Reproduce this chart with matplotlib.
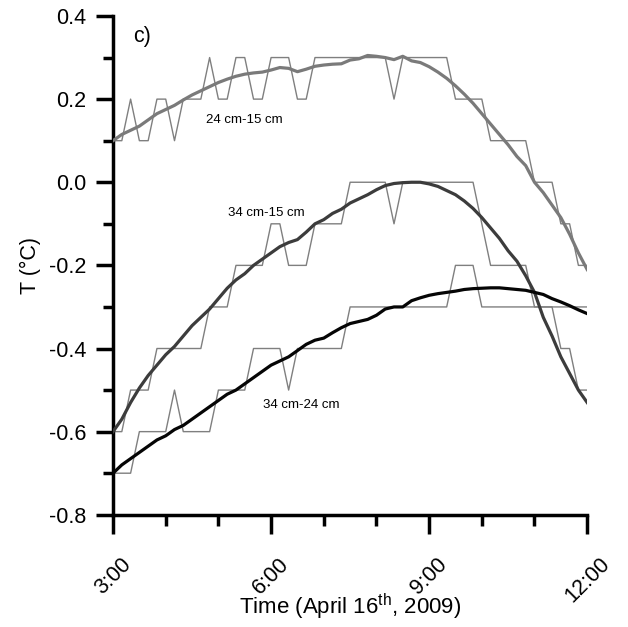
import numpy as np
import matplotlib
matplotlib.use('Agg')
import matplotlib.pyplot as plt
from matplotlib.ticker import MultipleLocator, FixedLocator

plt.rcParams['font.family'] = ['Liberation Sans', 'DejaVu Sans']
plt.rcParams['mathtext.fontset'] = 'custom'
plt.rcParams['mathtext.rm'] = 'Liberation Sans'

# 10 minute samples, 3:00 -> 12:00
minutes = np.arange(55) * 10
hours = 3 + minutes / 60.0

# measured differences (0.1 degC resolution)
raw_24_15 = [0.1, 0.1, 0.2, 0.1, 0.1, 0.2, 0.2, 0.1, 0.2, 0.2,
             0.2, 0.3, 0.2, 0.2, 0.3, 0.3, 0.2, 0.2, 0.3, 0.3,
             0.3, 0.2, 0.2, 0.3, 0.3, 0.3, 0.3, 0.3, 0.3, 0.3,
             0.3, 0.3, 0.2, 0.3, 0.3, 0.3, 0.3, 0.3, 0.3, 0.2,
             0.2, 0.2, 0.2, 0.1, 0.1, 0.1, 0.1, 0.1, 0.0, 0.0,
             0.0, -0.1, -0.1, -0.2, -0.2]
raw_34_15 = [-0.6, -0.6, -0.5, -0.5, -0.5, -0.4, -0.4, -0.4, -0.4, -0.4,
             -0.4, -0.3, -0.3, -0.3, -0.2, -0.2, -0.2, -0.2, -0.1, -0.1,
             -0.2, -0.2, -0.2, -0.1, -0.1, -0.1, -0.1, 0.0, 0.0, 0.0,
             0.0, 0.0, -0.1, 0.0, 0.0, 0.0, 0.0, 0.0, 0.0, 0.0,
             0.0, 0.0, -0.1, -0.2, -0.2, -0.2, -0.2, -0.2, -0.3, -0.3,
             -0.3, -0.4, -0.4, -0.5, -0.5]
raw_34_24 = [-0.7, -0.7, -0.7, -0.6, -0.6, -0.6, -0.6, -0.5, -0.6, -0.6,
             -0.6, -0.6, -0.5, -0.5, -0.5, -0.5, -0.4, -0.4, -0.4, -0.4,
             -0.5, -0.4, -0.4, -0.4, -0.4, -0.4, -0.4, -0.3, -0.3, -0.3,
             -0.3, -0.3, -0.3, -0.3, -0.3, -0.3, -0.3, -0.3, -0.3, -0.2,
             -0.2, -0.2, -0.3, -0.3, -0.3, -0.3, -0.3, -0.3, -0.3, -0.3,
             -0.3, -0.3, -0.3, -0.3, -0.3]

# smoothed curves
smooth_24_15 = [0.100, 0.115, 0.125, 0.135, 0.150, 0.165, 0.175, 0.185, 0.198, 0.210,
                0.220, 0.230, 0.240, 0.248, 0.255, 0.260, 0.263, 0.265, 0.270, 0.276,
                0.274, 0.266, 0.272, 0.279, 0.282, 0.284, 0.285, 0.294, 0.297, 0.305,
                0.303, 0.300, 0.295, 0.303, 0.292, 0.288, 0.278, 0.265, 0.250, 0.232,
                0.212, 0.190, 0.165, 0.140, 0.115, 0.090, 0.062, 0.040, 0.000, -0.025,
                -0.055, -0.085, -0.125, -0.170, -0.210]
smooth_34_15 = [-0.600, -0.570, -0.530, -0.495, -0.465, -0.440, -0.415, -0.395, -0.370, -0.345,
                -0.325, -0.305, -0.280, -0.255, -0.235, -0.220, -0.200, -0.185, -0.170, -0.155,
                -0.145, -0.138, -0.120, -0.100, -0.090, -0.075, -0.065, -0.050, -0.040, -0.030,
                -0.018, -0.008, -0.003, -0.001, 0.000, 0.000, -0.004, -0.010, -0.020, -0.030,
                -0.045, -0.063, -0.085, -0.110, -0.135, -0.165, -0.190, -0.225, -0.265, -0.325,
                -0.370, -0.420, -0.460, -0.500, -0.530]
smooth_34_24 = [-0.700, -0.680, -0.665, -0.650, -0.635, -0.620, -0.610, -0.595, -0.585, -0.570,
                -0.555, -0.540, -0.525, -0.510, -0.500, -0.485, -0.470, -0.455, -0.440, -0.430,
                -0.420, -0.405, -0.390, -0.380, -0.375, -0.362, -0.350, -0.340, -0.335, -0.330,
                -0.320, -0.305, -0.300, -0.300, -0.285, -0.278, -0.272, -0.268, -0.265, -0.262,
                -0.258, -0.256, -0.255, -0.254, -0.254, -0.256, -0.258, -0.260, -0.265, -0.270,
                -0.280, -0.288, -0.297, -0.307, -0.316]

labels = ['24 cm-15 cm', '34 cm-15 cm', '34 cm-24 cm']
label_pos = [(5.50, 0.150), (5.90, -0.074), (6.57, -0.535)]
smooth_colors = ['#7a7a7a', '#3c3c3c', '#050505']

fig = plt.figure(figsize=(6.28, 6.27), dpi=100)
ax = fig.add_axes([0.18, 0.179, 0.755, 0.7955])

for raw, sm, col in zip([raw_24_15, raw_34_15, raw_34_24],
                        [smooth_24_15, smooth_34_15, smooth_34_24], smooth_colors):
    ax.plot(hours, raw, color='#7f7f7f', lw=1.0, zorder=2)
    ax.plot(hours, sm, color=col, lw=2.3, zorder=3)

for txt, (x, y) in zip(labels, label_pos):
    ax.text(x, y, txt, fontsize=9.5, ha='center', va='center')

ax.text(0.042, 0.958, 'c)', transform=ax.transAxes, fontsize=15.5, ha='left', va='center')

ax.set_xlim(3, 12)
ax.set_ylim(-0.8, 0.4)

ax.xaxis.set_major_locator(FixedLocator([3, 6, 9, 12]))
ax.xaxis.set_minor_locator(MultipleLocator(1))
ax.set_xticklabels(['3:00', '6:00', '9:00', '12:00'], rotation=45, ha='center')
ax.yaxis.set_major_locator(MultipleLocator(0.2))
ax.yaxis.set_minor_locator(MultipleLocator(0.1))
ax.set_yticklabels(['%.1f' % v for v in ax.get_yticks()])

for s in ['top', 'right']:
    ax.spines[s].set_visible(False)
for s in ['left', 'bottom']:
    ax.spines[s].set_linewidth(2.5)

ax.tick_params(axis='x', which='major', length=14, width=2.5, labelsize=15.5, pad=14)
ax.tick_params(axis='x', which='minor', length=8, width=2.5)
ax.tick_params(axis='y', which='major', length=12, width=2.5, labelsize=15.5, pad=7)
ax.tick_params(axis='y', which='minor', length=7, width=2.5)

ax.set_xlabel(r'Time (April 16$^{\rm th}$, 2009)', fontsize=16)
ax.xaxis.set_label_coords(0.5, -0.155)
ax.set_ylabel('T (°C)', fontsize=15.5, labelpad=6)

fig.savefig('out.png', dpi=100)
